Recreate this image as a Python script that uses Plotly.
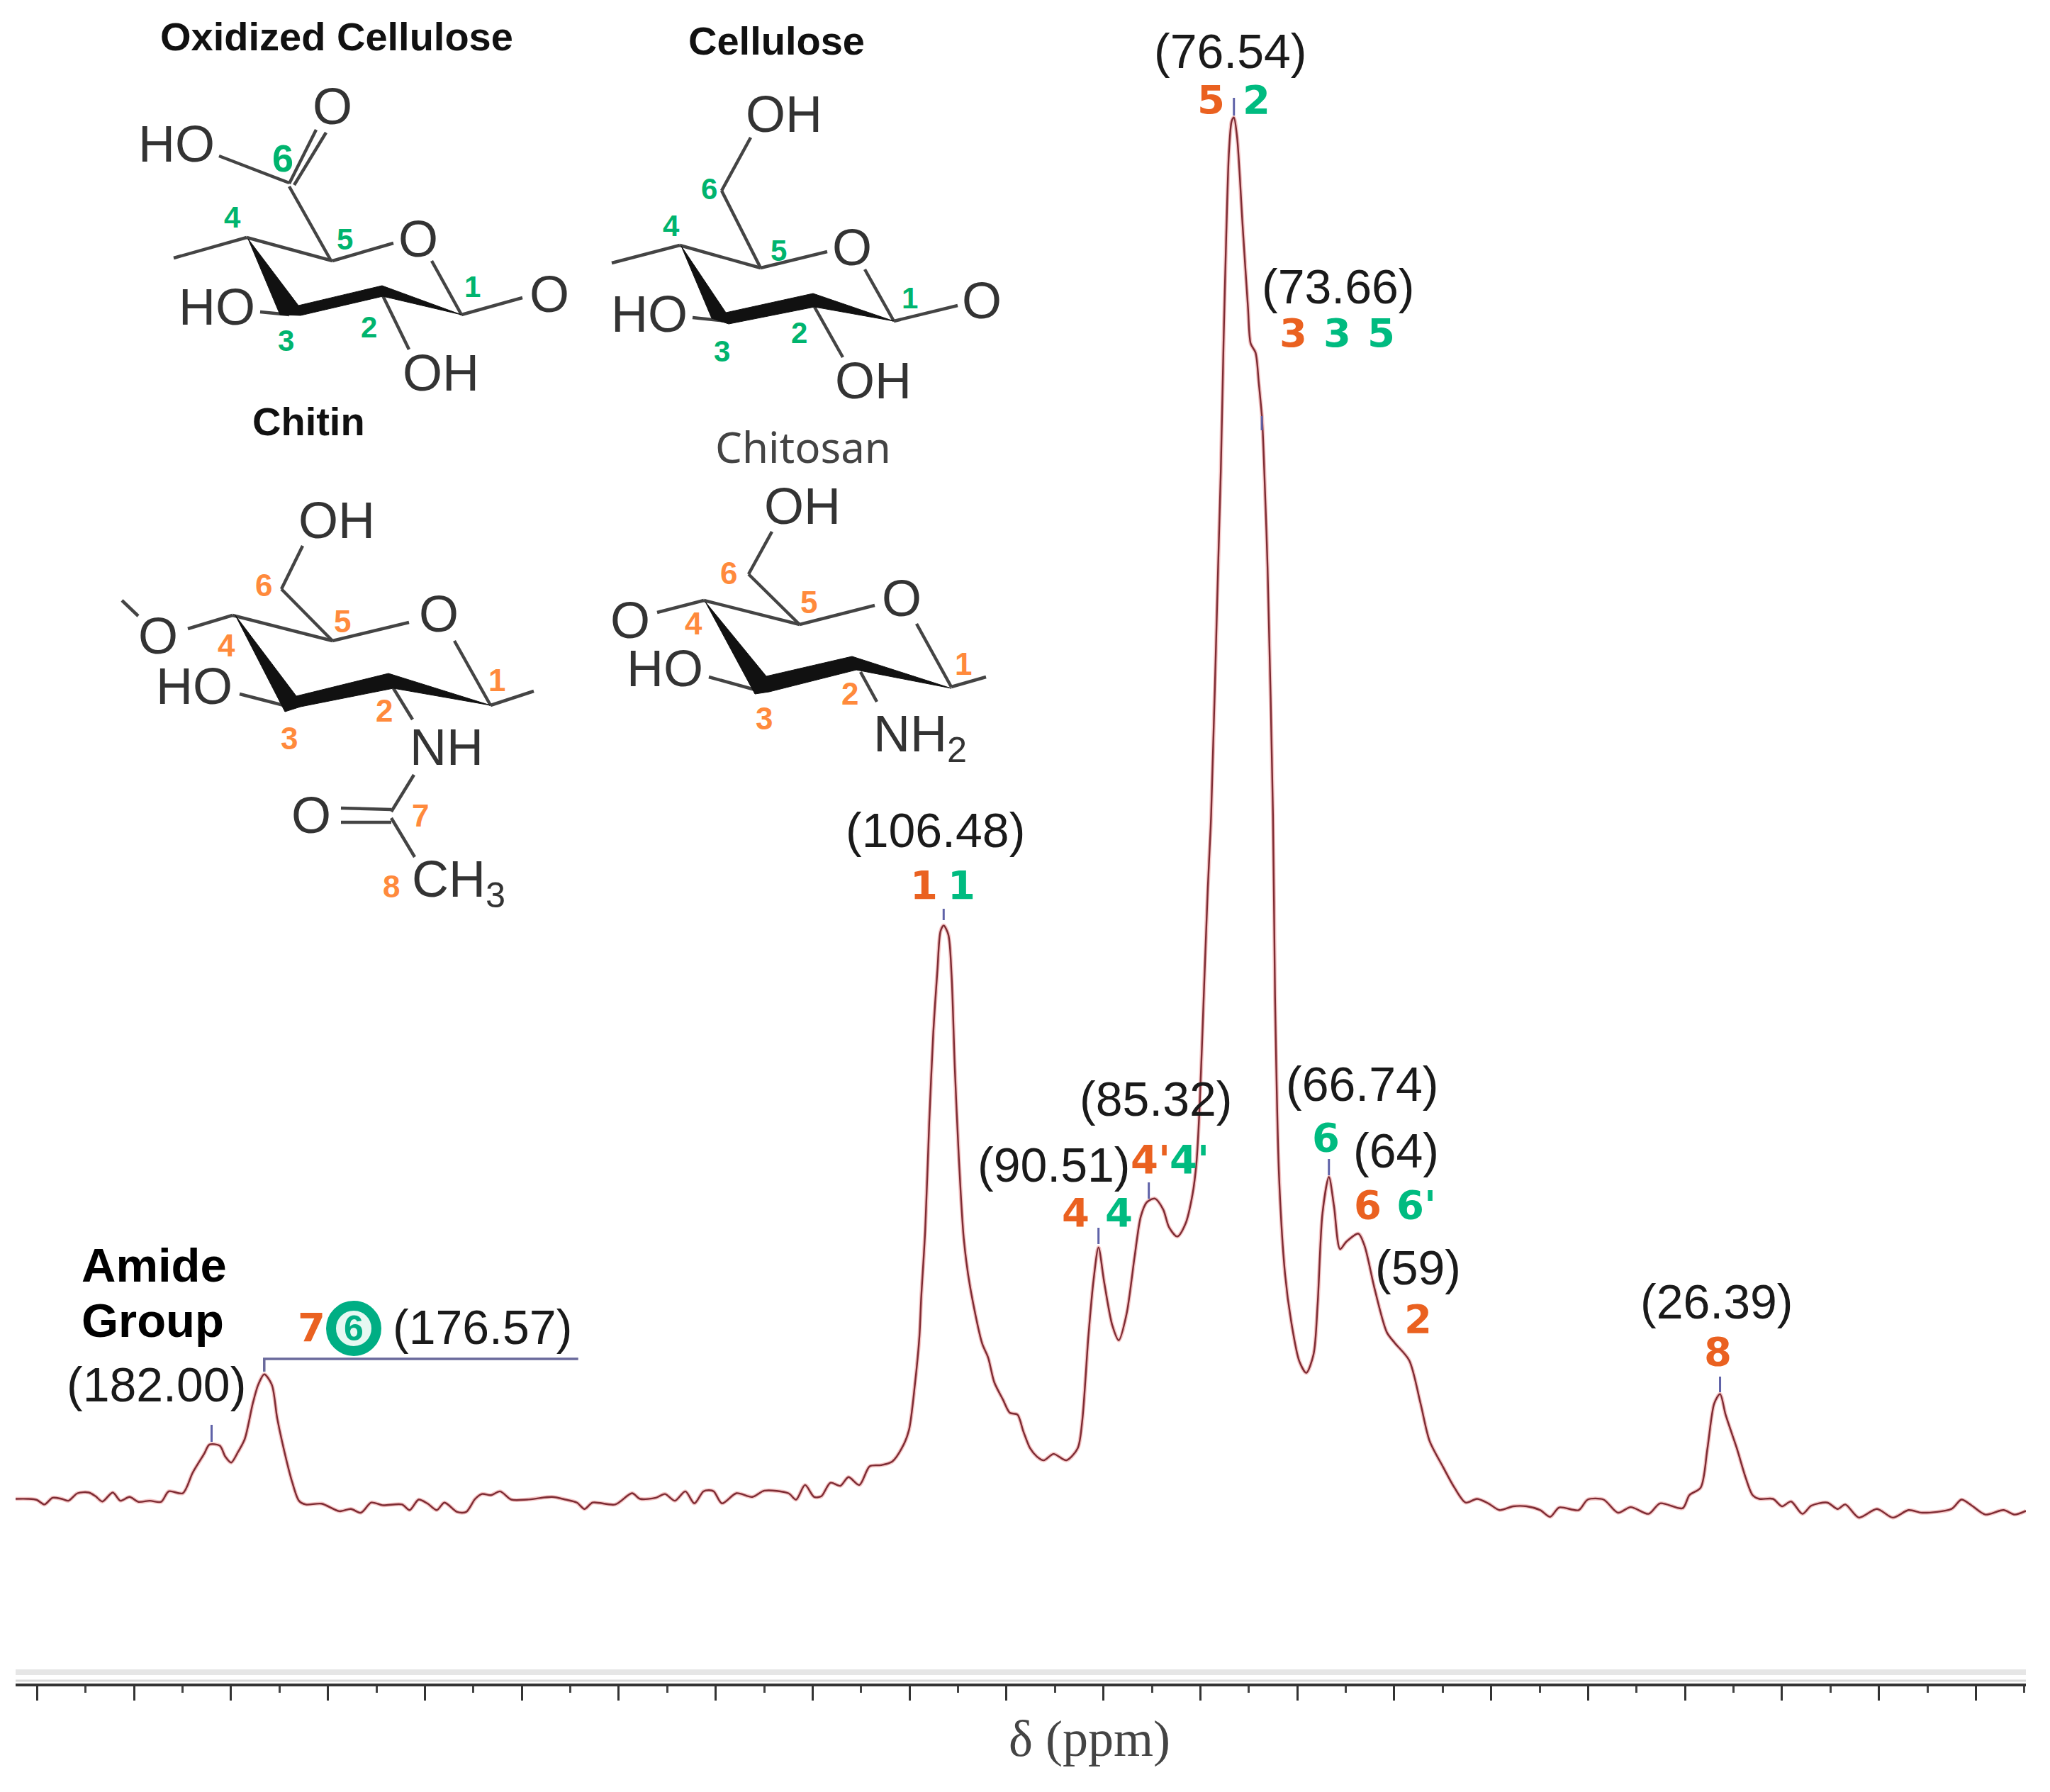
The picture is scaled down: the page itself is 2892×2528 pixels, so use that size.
import plotly.graph_objects as go

# 13C CP-MAS spectrum
chem_shift = [
    202.22, 200.96, 200.03, 199.24, 198.40, 197.47, 196.77, 195.83, 194.67, 193.97,
    193.27, 192.20, 191.41, 190.47, 189.54, 188.38, 187.21, 186.42, 184.97, 183.95,
    182.78, 182.22, 181.15, 180.59, 179.98, 179.28, 178.58, 177.75, 177.19, 176.57,
    175.79, 175.23, 174.39, 173.69, 172.99, 172.29, 170.66, 168.80, 167.63, 166.60,
    165.53, 164.37, 162.36, 161.57, 160.64, 159.70, 158.77, 157.98, 156.67, 155.74,
    154.81, 154.11, 153.18, 152.24, 151.08, 149.45, 146.88, 145.48, 144.32, 143.53,
    142.69, 140.36, 138.63, 137.79, 136.16, 135.23, 134.20, 133.13, 132.20, 131.27,
    130.66, 130.19, 129.35, 127.86, 126.23, 124.97, 122.50, 121.71, 120.78, 119.84,
    119.10, 118.17, 117.14, 116.30, 115.18, 114.11, 112.94, 111.78, 110.61, 110.05,
    109.45, 108.98, 108.81, 108.39, 107.97, 107.55, 107.13, 106.80, 106.48, 106.00,
    105.67, 105.33, 104.91, 104.41, 103.78, 102.52, 101.89, 101.26, 100.36, 99.66,
    98.87, 98.26, 97.56, 96.86, 96.16, 95.14, 93.83, 92.66, 92.20, 91.55,
    91.02, 90.51, 89.93, 89.09, 88.42, 87.62, 86.78, 86.15, 85.52, 84.68,
    83.84, 83.22, 82.38, 81.54, 80.82, 80.40, 80.07, 79.65, 79.23, 78.89,
    78.17, 77.89, 77.61, 77.33, 77.05, 76.77, 76.54, 76.21, 75.65, 75.09,
    74.81, 74.31, 73.97, 73.63, 73.41, 73.07, 72.51, 72.30, 71.88, 71.26,
    70.63, 69.79, 69.07, 68.32, 67.90, 67.40, 66.74, 66.22, 65.59, 64.96,
    63.70, 63.07, 62.02, 60.76, 59.92, 58.46, 57.29, 56.36, 54.96, 53.79,
    52.63, 51.46, 50.30, 49.13, 47.73, 46.34, 44.94, 43.91, 42.98, 40.97,
    40.04, 38.41, 36.92, 35.61, 33.75, 32.58, 30.25, 29.55, 28.39, 27.69,
    26.99, 26.39, 25.82, 24.66, 23.73, 23.03, 22.33, 20.93, 20.00, 19.06,
    17.90, 16.97, 15.33, 14.26, 13.47, 12.07, 10.20, 8.57, 6.94, 5.54,
    2.51, 1.49, 0.42, -0.98, -2.85, -4.01, -5.16,
]
intensity = [
    260.5, 260.5, 259, 252.6, 262.1, 260.5, 257.9, 268.5, 269.5, 264.2,
    256.8, 269.5, 257.9, 263.2, 256.3, 257.9, 256.3, 271.1, 268.5, 297.5,
    323.9, 337.1, 335.5, 320.2, 311.7, 326.5, 345.0, 395.2, 421.6, 436.3,
    421.6, 374.1, 321.3, 284.3, 257.9, 252.6, 253.7, 243.1, 246.3, 241.0,
    255.3, 251.6, 252.6, 244.7, 259.5, 253.7, 244.7, 255.3, 242.1, 242.1,
    260.5, 267.4, 265.8, 271.1, 259.5, 259.5, 263.2, 259.5, 255.3, 246.3,
    255.3, 252.6, 268.5, 260.5, 262.1, 267.4, 257.9, 271.1, 254.2, 271.1,
    272.7, 271.1, 254.2, 268.5, 263.2, 272.1, 268.5, 259.5, 280.1, 263.2,
    264.2, 283.2, 279.0, 291.2, 280.1, 306.5, 308.1, 313.3, 337.1, 358.2,
    421.6, 490.2, 541.3, 638.3, 791.3, 918.9, 1005.6, 1061.7, 1069.4, 1056.6,
    1000.5, 867.9, 740.3, 628.1, 561.7, 480.1, 459.7, 425, 400.4, 382,
    379.3, 355.6, 331.8, 320.2, 314.9, 323.9, 314.9, 331.8, 368.8, 490.2,
    569, 615.3, 566.8, 505.6, 484.2, 520.9, 602.6, 658.7, 679.1, 684.2,
    668.9, 643.4, 630.6, 648.5, 689.3, 735.2, 816.8, 969.9, 1123, 1225,
    1575, 1711.7, 1890.3, 2043.4, 2160.7, 2204.1, 2209.2, 2181.1, 2058.7, 1941.3,
    1890.3, 1877.6, 1834.2, 1783.2, 1711.7, 1575, 1225, 969.9, 714.8, 577.0,
    510.7, 454.6, 438.3, 464.8, 536.2, 663.8, 714.8, 674, 612.8, 623,
    634.7, 617.9, 556.6, 495.4, 480.1, 456, 395.2, 342.4, 305.4, 276.4,
    255.3, 260.5, 254.2, 244.7, 250, 250, 244.7, 235.2, 248.4, 244.7,
    259.5, 259.5, 241, 248.9, 239.4, 254.2, 247.3, 265.8, 276.4, 331.8,
    395.2, 408.4, 379.3, 331.8, 289.6, 265.8, 260.5, 260.5, 250, 256.8,
    239.4, 251, 255.3, 246.3, 252.6, 234.1, 246.3, 234.1, 244.7, 241,
    246.3, 259.5, 251, 238.4, 244.7, 238.4, 243.6,
]

# small blue peak pickers: ppm, lower end, upper end
pick_ppm = [182.00, 106.48, 90.51, 85.32, 76.54, 73.66, 66.74, 26.39]
pick_low = [341, 1077, 620, 684, 2212, 1768, 717, 411]
pick_high = [365, 1093, 643, 707, 2237, 1788, 740, 433]

# bracket over the 176.57 peak
bracket_ppm = [176.57, 176.57, 144.18]
bracket_int = [440, 458, 458]

major_ticks = [200, 190, 180, 170, 160, 150, 140, 130, 120, 110, 100, 90, 80, 70, 60, 50, 40, 30, 20, 10, 0]

# black text: label, x, y in page pixels
ppm_labels = [
    ("(76.54)", 1735, 72), ("(73.66)", 1887, 404), ("(106.48)", 1319, 1171),
    ("(90.51)", 1486, 1643), ("(85.32)", 1630, 1550), ("(66.74)", 1921, 1529),
    ("(64)", 1969, 1623), ("(59)", 2000, 1788), ("(26.39)", 2421, 1836),
    ("(182.00)", 220, 1953), ("(176.57)", 680, 1872),
]
orange_labels = [
    ("5", 1708, 140), ("3", 1824, 469), ("1", 1303, 1248), ("4", 1517, 1710),
    ("4'", 1623, 1635), ("6", 1929, 1699), ("2", 2000, 1860), ("8", 2423, 1906), ("7", 439, 1872),
]
green_labels = [
    ("2", 1772, 140), ("3", 1886, 469), ("5", 1948, 469), ("1", 1356, 1248), ("4", 1578, 1710),
    ("4'", 1678, 1635), ("6", 1870, 1604), ("6'", 1998, 1699),
]

# structure titles
bold_titles = [("Oxidized Cellulose", 475, 51), ("Cellulose", 1095, 57), ("Chitin", 435, 594)]

# atom labels of the four structures
atoms = [
    ("O", 469, 150), ("HO", 249, 203), ("O", 590, 337), ("O", 775, 415), ("HO", 306, 433), ("OH", 622, 526),
    ("OH", 1106, 161), ("O", 1202, 349), ("O", 1385, 424), ("HO", 916, 443), ("OH", 1232, 537),
    ("OH", 475, 734), ("O", 619, 866), ("O", 223, 897), ("HO", 274, 968), ("NH", 630, 1054), ("O", 439, 1150),
    ("CH<sub>3</sub>", 647, 1245),
    ("OH", 1132, 714), ("O", 1272, 844), ("O", 889, 875), ("HO", 938, 943), ("NH<sub>2</sub>", 1298, 1040),
]

# carbon numbers on the structures
green_atoms = [
    ("4", 328, 306), ("5", 486, 337), ("1", 666, 404), ("2", 520, 461), ("3", 403, 480),
    ("6", 1000, 266), ("4", 947, 318), ("5", 1098, 353), ("1", 1283, 420), ("2", 1127, 469), ("3", 1018, 495),
]
orange_atoms = [
    ("6", 372, 825), ("5", 483, 876), ("4", 319, 910), ("1", 701, 959), ("2", 542, 1002), ("3", 408, 1041),
    ("7", 593, 1150), ("8", 552, 1250),
    ("6", 1028, 808), ("5", 1141, 849), ("4", 978, 879), ("1", 1359, 936), ("2", 1199, 978), ("3", 1078, 1013),
]

# bonds as x0, y0, x1, y1 on the page
bonds = [
    (309, 220, 408, 258), (408, 259, 446, 183), (415, 261, 460, 187), (408, 263, 466, 366),
    (469, 368, 555, 343), (469, 368, 348, 335), (348, 335, 245, 364), (609, 368, 651, 444),
    (651, 444, 737, 420), (367, 440, 408, 444), (539, 415, 577, 493),
    (1059, 194, 1018, 269), (1018, 269, 1073, 378), (1073, 378, 1167, 355), (1073, 378, 959, 346),
    (959, 346, 863, 371), (1220, 380, 1261, 453), (1261, 453, 1351, 431), (977, 448, 1024, 453),
    (1149, 433, 1189, 504),
    (427, 770, 397, 831), (397, 831, 469, 904), (469, 904, 577, 878), (469, 904, 328, 868),
    (328, 868, 265, 887), (172, 847, 195, 869), (641, 904, 692, 995), (692, 995, 753, 975),
    (338, 979, 408, 997), (555, 971, 582, 1015), (584, 1093, 552, 1145), (481, 1140, 552, 1142),
    (481, 1160, 552, 1160), (552, 1154, 585, 1209),
    (1089, 750, 1056, 810), (1056, 810, 1128, 881), (1128, 881, 1234, 854), (1128, 881, 993, 847),
    (993, 847, 927, 864), (1293, 880, 1342, 969), (1342, 969, 1391, 955), (1000, 955, 1065, 973),
    (1214, 948, 1237, 990),
]

# thick front edges of the rings
wedges = [
    [(350, 337), (395, 444), (424, 445), (540, 418), (651, 444), (539, 403), (421, 431)],
    [(961, 347), (1004, 449), (1028, 457), (1149, 433), (1261, 453), (1147, 414), (1024, 441)],
    [(332, 868), (402, 1004), (424, 997), (555, 971), (692, 995), (548, 950), (418, 982)],
    [(995, 849), (1065, 979), (1085, 976), (1208, 945), (1342, 971), (1202, 926), (1081, 954)],
]

ORANGE = "#ea6120"
GREEN = "#00bb80"
PAGE_W, PAGE_H = 2892, 2528
SANS = "Liberation Sans"

fig = go.Figure()

# pale halo, then the spectrum itself
fig.add_trace(go.Scatter(x=chem_shift, y=intensity, mode="lines",
                         line=dict(color="rgba(235,150,150,0.55)", width=5.5, shape="spline", smoothing=0.8)))
fig.add_trace(go.Scatter(x=chem_shift, y=intensity, mode="lines",
                         line=dict(color="#7d2b33", width=2.4, shape="spline", smoothing=0.8)))

pick_x, pick_y = [], []
for p, lo, hi in zip(pick_ppm, pick_low, pick_high):
    pick_x += [p, p, None]
    pick_y += [lo, hi, None]
fig.add_trace(go.Scatter(x=pick_x, y=pick_y, mode="lines", line=dict(color="#5f62a8", width=3)))
fig.add_trace(go.Scatter(x=bracket_ppm, y=bracket_int, mode="lines", line=dict(color="#6a6a9c", width=3.5)))

# page-pixel layer for the structures and the grey band over the axis
bond_x, bond_y = [], []
for x0, y0, x1, y1 in bonds:
    bond_x += [x0, x1, None]
    bond_y += [y0, y1, None]
fig.add_trace(go.Scatter(x=bond_x, y=bond_y, mode="lines", xaxis="x2", yaxis="y2",
                         line=dict(color="#444444", width=4.5)))
for w in wedges:
    fig.add_trace(go.Scatter(x=[p[0] for p in w] + [w[0][0]], y=[p[1] for p in w] + [w[0][1]],
                             mode="lines", fill="toself", fillcolor="#111111", xaxis="x2", yaxis="y2",
                             line=dict(color="#111111", width=1)))
fig.add_trace(go.Scatter(x=[22, 2858], y=[2359, 2359], mode="lines", xaxis="x2", yaxis="y2",
                         line=dict(color="#e6e6e6", width=8)))
fig.add_trace(go.Scatter(x=[22, 2858], y=[2371, 2371], mode="lines", xaxis="x2", yaxis="y2",
                         line=dict(color="#d8d8d8", width=3)))

# ring around the 6 of oxidized cellulose
fig.add_trace(go.Scatter(x=[499], y=[1874], mode="markers", xaxis="x2", yaxis="y2",
                         marker=dict(size=64, color="#e6f8f2", line=dict(color="#00ae84", width=14))))


def label(text, x, y, size, color, bold=False, family=SANS, anchor="center"):
    if bold:
        text = "<b>" + text + "</b>"
    fig.add_annotation(text=text, x=x, y=y, xref="x2", yref="y2", showarrow=False, xanchor=anchor,
                       yanchor="middle", font=dict(family=family, size=size, color=color))


for t, x, y in ppm_labels:
    label(t, x, y, 68, "#1a1a1a")
for t, x, y in orange_labels:
    label(t, x, y, 56, ORANGE, bold=True, family="DejaVu Sans")
for t, x, y in green_labels:
    label(t, x, y, 56, GREEN, bold=True, family="DejaVu Sans")
for t, x, y in bold_titles:
    label(t, x, y, 56, "#111111", bold=True)
label("Chitosan", 1133, 630, 60, "#444444", family="Noto Sans")
for t, x, y in atoms:
    label(t, x, y, 72, "#333333")
for t, x, y in green_atoms:
    label(t, x, y, 42, "#00b46e", bold=True)
label("6", 399, 223, 54, "#00b46e", bold=True)
for t, x, y in orange_atoms:
    label(t, x, y, 44, "#ff8a3c", bold=True)
label("6", 499, 1874, 50, "#00ae84", bold=True)
label("Amide", 113, 1784, 67, "#000000", bold=True, anchor="left")
label("Group", 113, 1862, 67, "#000000", bold=True, anchor="left")
label("δ (ppm)", 1537, 2453, 72, "#444444", family="Liberation Serif")

fig.update_layout(
    width=PAGE_W,
    height=PAGE_H,
    margin=dict(l=0, r=0, t=0, b=0),
    paper_bgcolor="white",
    plot_bgcolor="rgba(0,0,0,0)",
    showlegend=False,
    hovermode=False,
    xaxis=dict(
        domain=[22 / PAGE_W, 2858 / PAGE_W],
        range=[202.22, -5.16],
        showgrid=False,
        zeroline=False,
        showline=True,
        linecolor="#333333",
        linewidth=4,
        ticks="outside",
        tickmode="array",
        tickvals=major_ticks,
        ticklen=20,
        tickwidth=3,
        tickcolor="#333333",
        showticklabels=False,
        minor=dict(ticks="outside", ticklen=9, tickwidth=3, tickcolor="#444444", dtick=5, tick0=0),
    ),
    yaxis=dict(domain=[153 / PAGE_H, 1], range=[0, 2375], visible=False),
    xaxis2=dict(domain=[0, 1], range=[0, PAGE_W], visible=False, anchor="y2"),
    yaxis2=dict(domain=[0, 1], range=[PAGE_H, 0], visible=False, anchor="x2"),
)

fig.write_html("out.html", config={"displayModeBar": False}, post_script="document.body.style.margin='0';")
